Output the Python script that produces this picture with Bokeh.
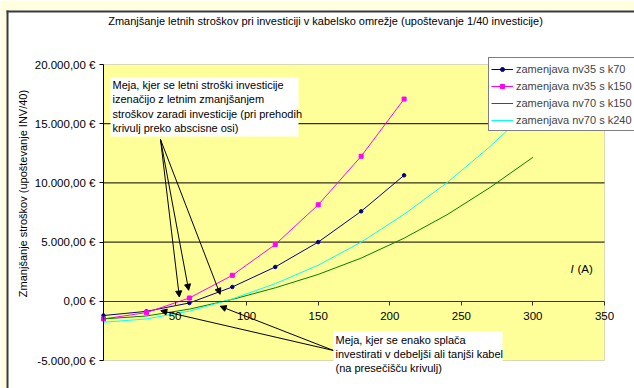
import math

from bokeh.plotting import figure
from bokeh.models import (Range1d, FixedTicker, LinearAxis, Legend, LegendItem, Label,
                          BoxAnnotation, Arrow, NormalHead)
from bokeh.embed import file_html
from bokeh.resources import INLINE

# Current I (A) at which each series was evaluated
current_a = [0, 30, 60, 90, 120, 150, 180, 210]
current_b = [0, 30, 60, 90, 120, 150, 180, 210, 240, 270, 300]

# Annual cost reduction (EUR), investment spread over 40 years
nv35_k70 = [-1200, -850, -140, 1210, 2900, 5000, 7600, 10640]
nv35_k150 = [-1490, -955, 280, 2196, 4800, 8150, 12250, 17080]
nv70_k150 = [-1490, -1240, -660, 160, 1140, 2270, 3650, 5330, 7310, 9610, 12160]
nv70_k240 = [-1770, -1490, -830, 200, 1490, 3050, 5000, 7350, 10020, 13070, 16470]

series_names = ["zamenjava nv35 s k70", "zamenjava nv35 s k150",
                "zamenjava nv70 s k150", "zamenjava nv70 s k240"]

x_min, x_max = 0, 350
y_min, y_max = -5000, 20000
x_ticks = [50, 100, 150, 200, 250, 300, 350]
y_ticks = [-5000, 0, 5000, 10000, 15000, 20000]
y_tick_labels = ["-5.000,00 €", "0,00 €", "5.000,00 €", "10.000,00 €",
                 "15.000,00 €", "20.000,00 €"]
grid_values = [5000, 10000, 15000]

# Points the callout arrows point at (I, EUR)
zero_crossings = [(53, 360), (59.5, 930), (81.5, 590)]
curve_intersections = [(40, -790), (81.5, -420)]

title_text = ("Zmanjšanje letnih stroškov pri investiciji v kabelsko omrežje "
              "(upoštevanje 1/40 investicije)")
y_title = "Zmanjšanje stroškov (upoštevanje INV/40)"
note_top = ["Meja, kjer se letni stroški investicije",
            "izenačijo z letnim zmanjšanjem",
            "stroškov zaradi investicije (pri prehodih",
            "krivulj preko abscisne osi)"]
note_bottom = ["Meja, kjer se enako splača",
               "investirati v debeljši ali tanjši kabel",
               "(na presečišču krivulj)"]

FONT = "Liberation Sans"
W, H = 634, 388
# plot area in canvas pixels
PL, PR, PT, PB = 103, 604, 64, 360
sx = (x_max - x_min) / (PR - PL)
sy = (y_max - y_min) / (PB - PT)

# the frame spans the whole canvas; the plot area is drawn inside it
p = figure(width=W, height=H,
           x_range=Range1d(x_min - PL * sx, x_max + (W - PR) * sx),
           y_range=Range1d(y_min - (H - PB) * sy, y_max + PT * sy),
           min_border=0, min_border_left=0, min_border_right=0,
           min_border_top=0, min_border_bottom=0,
           output_backend="svg", toolbar_location=None,
           x_axis_location=None, y_axis_location=None,
           background_fill_color="white", border_fill_color="white",
           outline_line_color=None)
p.xgrid.visible = False
p.ygrid.visible = False

def canvas_box(left, right, top, bottom, color, level="image"):
    p.add_layout(BoxAnnotation(left=left, right=right, top=top, bottom=bottom,
                               left_units="canvas", right_units="canvas",
                               top_units="canvas", bottom_units="canvas",
                               fill_color=color, fill_alpha=1, line_alpha=0,
                               level=level))

# sheet around the chart
sheet = "#FFFFDE"
canvas_box(0, 6, 0, H, sheet)
canvas_box(0, W, 0, 10, sheet)
canvas_box(6, 8, 10, H, "#3A3A3A")
canvas_box(6, W, 10, 12, "#3A3A3A")

# plot area
p.add_layout(BoxAnnotation(left=x_min, right=x_max, bottom=y_min, top=y_max,
                           fill_color="#FFFF99", fill_alpha=1,
                           line_color="#808080", line_width=1, level="image"))

# horizontal gridlines limited to the plot area
p.segment(x0=[x_min] * len(grid_values), x1=[x_max] * len(grid_values),
          y0=grid_values, y1=grid_values, line_color="black", line_width=1,
          level="underlay")

# value axis
yax = LinearAxis(fixed_location=x_min, bounds=(y_min, y_max),
                 ticker=FixedTicker(ticks=y_ticks))
yax.major_label_overrides = {float(t): s for t, s in zip(y_ticks, y_tick_labels)}
yax.axis_line_color = "black"
yax.major_tick_line_color = "black"
yax.major_tick_out = 4
yax.major_tick_in = 0
yax.minor_tick_out = 0
yax.minor_tick_in = 0
yax.major_label_standoff = 4
yax.major_label_text_font = FONT
yax.major_label_text_font_size = "11.5px"
yax.major_label_text_color = "black"
p.add_layout(yax, "left")

# current axis crossing at zero
xax = LinearAxis(fixed_location=0, bounds=(x_min, x_max), ticker=FixedTicker(ticks=x_ticks))
xax.axis_line_color = "#333333"
xax.major_tick_line_color = "#333333"
xax.major_tick_out = 4
xax.major_tick_in = 0
xax.minor_tick_out = 0
xax.minor_tick_in = 0
xax.major_label_standoff = 7
xax.major_label_text_font = FONT
xax.major_label_text_font_size = "11.5px"
xax.major_label_text_color = "black"
p.add_layout(xax, "below")

# series
r1 = p.line(current_a, nv35_k70, line_color="#000080", line_width=1)
s1 = p.scatter(current_a, nv35_k70, marker="circle", size=3.5,
               fill_color="#000080", line_color="#000080")
r2 = p.line(current_a, nv35_k150, line_color="#FF00FF", line_width=1)
s2 = p.scatter(current_a, nv35_k150, marker="square", size=4,
               fill_color="#FF00FF", line_color="#FF00FF")
r3 = p.line(current_b, nv70_k150, line_color="#008000", line_width=1)
r4 = p.line(current_b, nv70_k240, line_color="#00FFFF", line_width=1)

# callout arrows
head = dict(size=6, fill_color="black", line_color="black")
for (xe, ye) in zero_crossings:
    p.add_layout(Arrow(end=NormalHead(**head), x_start=160, y_start=139,
                       start_units="canvas", x_end=xe, y_end=ye,
                       line_color="black", line_width=1))
for (xe, ye) in curve_intersections:
    p.add_layout(Arrow(end=NormalHead(**head), x_start=333, y_start=350,
                       start_units="canvas", x_end=xe, y_end=ye,
                       line_color="black", line_width=1))

# callout boxes
canvas_box(110, 298, 77, 136, "white", level="annotation")
canvas_box(333, 502, 331, 376, "white", level="annotation")

def text(x, y, s, align="left", angle=0.0, style="normal", size="11px"):
    p.add_layout(Label(x=x, y=y, x_units="canvas", y_units="canvas", text=s,
                       text_align=align, text_baseline="middle", angle=angle,
                       text_font=FONT, text_font_size=size, text_color="black",
                       text_font_style=style))

for i, line in enumerate(note_top):
    text(112, 84 + i * 14.5, line)
for i, line in enumerate(note_bottom):
    text(335, 339.5 + i * 14, line)

text(325, 20, title_text, align="center")
text(22, 193, y_title, align="center", angle=math.pi / 2)
text(570, 268, "I", style="italic", size="11.5px")
text(577, 268, "(A)", size="11.5px")

legend = Legend(items=[LegendItem(label=series_names[0], renderers=[r1, s1]),
                       LegendItem(label=series_names[1], renderers=[r2, s2]),
                       LegendItem(label=series_names[2], renderers=[r3]),
                       LegendItem(label=series_names[3], renderers=[r4])],
                location=(488, H - 131), border_line_color="black", border_line_width=1,
                background_fill_color="white", background_fill_alpha=1,
                label_text_font=FONT, label_text_font_size="11px",
                glyph_width=22, glyph_height=10, label_height=17, spacing=0,
                padding=2, margin=0, label_standoff=3)
p.add_layout(legend)

open("out.html", "w").write(file_html(p, INLINE))
